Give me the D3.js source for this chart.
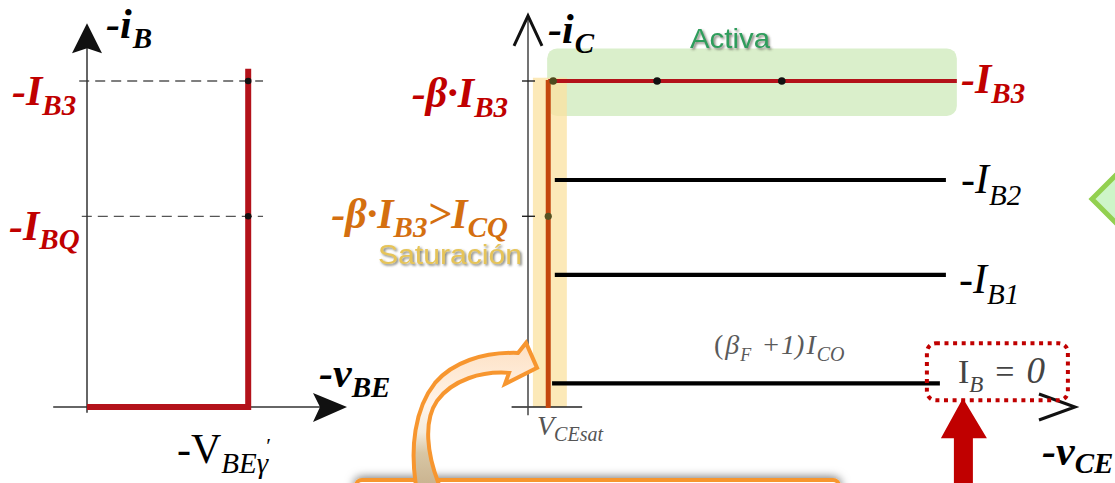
<!DOCTYPE html>
<html><head><meta charset="utf-8">
<script src="https://cdn.jsdelivr.net/npm/d3@7"></script>
<style>
html,body{margin:0;padding:0;background:#fff;overflow:hidden}
svg{display:block}
</style></head><body>
<svg id="fig" width="1115" height="483"></svg>
<script>
// ---- Input characteristic (-iB vs -vBE), piecewise-linear junction model ----
const vbeGamma = 0.62;                 // -V_BEγ
const inputTraceV = [0, 0.62, 0.62];   // -vBE along the trace
const inputTraceI = [0, 0, 41.5];      // -iB along the trace
const inputMarkLevels = [23.4, 40];    // -I_BQ, -I_B3

// ---- Output characteristic (-iC vs -vCE) ----
const curveNames = ["B0", "B1", "B2", "B3"];
const curveLevels = [2.9, 16.2, 27.85, 40];    // -iC of each flat branch
const curveStart = [0.44, 0.49, 0.49, 0.37];   // -vCE where each branch starts
const curveEnd = [7.53, 7.64, 7.64, 7.84];     // -vCE where each branch ends
const vceSat = 0.37;
const icq = 23.4;
const ib3Points = [0.46, 2.36, 4.64];          // marked points on the I_B3 branch
const satRegionV = [0.09, 0.71], satRegionI = [0, 40.4];
const activeRegionV = [0.35, 7.84], activeRegionI = [35.7, 44.0];

const svg = d3.select("#fig");
const defs = svg.append("defs");

// scales shared by both panels (same current axis baseline)
const yI = d3.scaleLinear().domain([0, 40]).range([407, 81]);
const xL = d3.scaleLinear().domain([0, 1]).range([87, 347]);
const xR = d3.scaleLinear().domain([0, 10]).range([528, 1075]);

// filters & gradients
const sh = defs.append("filter").attr("id", "txtShadow").attr("x", "-10%").attr("y", "-30%").attr("width", "130%").attr("height", "160%");
sh.append("feDropShadow").attr("dx", 1.6).attr("dy", 1.6).attr("stdDeviation", 1.1)
  .attr("flood-color", "#4a4a3a").attr("flood-opacity", 0.7);
const boxSh = defs.append("filter").attr("id", "boxShadow").attr("x", "-10%").attr("y", "-60%").attr("width", "120%").attr("height", "220%");
boxSh.append("feDropShadow").attr("dx", 0).attr("dy", -1).attr("stdDeviation", 5)
  .attr("flood-color", "#000").attr("flood-opacity", 0.55);
const grad = defs.append("linearGradient").attr("id", "arrowFill").attr("x1", 0).attr("y1", 0).attr("x2", 0).attr("y2", 1);
[[0, "#fde0c2"], [0.42, "#fff4ea"], [0.6, "#f4ebdc"], [0.74, "#d8c6a4"], [1, "#c6af8b"]]
  .forEach(([o, c]) => grad.append("stop").attr("offset", o).attr("stop-color", c));

function mathText(parent, x, y, parts, o = {}) {
  const t = parent.append("text").attr("x", x).attr("y", y)
    .attr("font-family", o.family || "'Liberation Serif','Times New Roman',serif")
    .attr("font-style", o.style || "italic")
    .attr("font-weight", o.weight || "bold")
    .attr("fill", o.fill || "#000")
    .attr("text-anchor", o.anchor || "start");
  let cur = 0;
  parts.forEach(p => {
    const [txt, size, off = 0, dx = 0, extra] = p;
    const s = t.append("tspan").attr("font-size", size).attr("dy", off - cur).text(txt);
    if (dx) s.attr("dx", dx);
    if (extra) Object.entries(extra).forEach(([k, v]) => s.attr(k, v));
    cur = off;
  });
  return t;
}

const RED = "#c00000", DARKRED = "#b3121a", ORANGE = "#d46f10";
const UP = { "font-style": "normal" };

// ================= Left panel: input characteristic =================
const gL = svg.append("g");
// dashed reference levels
gL.selectAll("line.ref").data(inputMarkLevels).join("line")
  .attr("x1", (d, i) => xL(i ? -0.03 : -0.02)).attr("x2", xL(0.677))
  .attr("y1", d => yI(d)).attr("y2", d => yI(d))
  .attr("stroke", "#555").attr("stroke-width", 1.3).attr("stroke-dasharray", "10,6");
// axes
gL.append("line").attr("x1", xL(-0.13)).attr("x2", xL(0.93)).attr("y1", yI(0)).attr("y2", yI(0))
  .attr("stroke", "#333").attr("stroke-width", 1.5);
gL.append("line").attr("x1", xL(0)).attr("x2", xL(0)).attr("y1", yI(-0.7)).attr("y2", yI(45))
  .attr("stroke", "#333").attr("stroke-width", 1.5);
// filled arrowheads
{
  const tx = xL(1), ty = yI(0);
  gL.append("path").attr("d", `M${tx},${ty} L${tx - 34},${ty - 14} L${tx - 27},${ty} L${tx - 34},${ty + 15} Z`).attr("fill", "#111");
  const ux = xL(0), uy = yI(47.1);
  gL.append("path").attr("d", `M${ux},${uy} L${ux + 15},${uy + 30} L${ux},${uy + 25} L${ux - 15},${uy + 30} Z`).attr("fill", "#111");
}
// trace
const trace = inputTraceV.map((v, i) => [v, inputTraceI[i]]);
gL.append("path").attr("d", d3.line().x(d => xL(d[0])).y(d => yI(d[1]))(trace))
  .attr("fill", "none").attr("stroke", DARKRED).attr("stroke-width", 6).attr("stroke-linejoin", "miter");
gL.selectAll("circle").data(inputMarkLevels).join("circle")
  .attr("cx", xL(vbeGamma)).attr("cy", d => yI(d)).attr("r", 3.3).attr("fill", "#111");

mathText(gL, 106, 38, [["-i", 42], ["B", 29, 10, 1]]);
mathText(gL, 12, 105, [["-I", 42], ["B3", 29, 10]], { fill: RED });
mathText(gL, 9, 240, [["-I", 42], ["BQ", 29, 9]], { fill: RED });
mathText(gL, 319, 387, [["-v", 42], ["BE", 29, 10]]);
mathText(gL, 177, 463, [["-V", 42, 0, 0, UP], ["BEγ", 29, 10], ["′", 22, -10, -2, UP]], { weight: "normal" });

// ================= Right panel: output characteristic =================
const gR = svg.append("g");
// active region band
gR.append("rect")
  .attr("x", xR(activeRegionV[0])).attr("y", yI(activeRegionI[1]))
  .attr("width", xR(activeRegionV[1]) - xR(activeRegionV[0]))
  .attr("height", yI(activeRegionI[0]) - yI(activeRegionI[1]))
  .attr("rx", 10).attr("fill", "#daefcb");
// saturation band
gR.append("rect")
  .attr("x", xR(satRegionV[0])).attr("y", yI(satRegionI[1]))
  .attr("width", xR(satRegionV[1]) - xR(satRegionV[0]))
  .attr("height", yI(satRegionI[0]) - yI(satRegionI[1]))
  .attr("fill", "#fbe2a0").attr("opacity", 0.75);

// axes
gR.append("line").attr("x1", xR(-0.3)).attr("x2", xR(0.99)).attr("y1", yI(0)).attr("y2", yI(0))
  .attr("stroke", "#222").attr("stroke-width", 1.4);
gR.append("line").attr("x1", xR(0)).attr("x2", xR(0)).attr("y1", yI(-1)).attr("y2", yI(47.7))
  .attr("stroke", "#444").attr("stroke-width", 1.5);
{
  const tx = xR(10), ty = yI(0);
  gR.append("path").attr("d", `M${tx - 36},${ty - 13} L${tx},${ty} L${tx - 36},${ty + 13}`)
    .attr("fill", "none").attr("stroke", "#111").attr("stroke-width", 3).attr("stroke-linejoin", "miter");
  const ux = xR(0), uy = yI(48);
  gR.append("path").attr("d", `M${ux - 14},${uy + 30} L${ux},${uy} L${ux + 14},${uy + 30}`)
    .attr("fill", "none").attr("stroke", "#111").attr("stroke-width", 3);
}
// axis ticks at I_CQ and beta*I_B3
gR.selectAll("line.tick").data([icq, curveLevels[3]]).join("line")
  .attr("x1", xR(0) - 6).attr("x2", xR(0) + 7).attr("y1", d => yI(d)).attr("y2", d => yI(d))
  .attr("stroke", "#222").attr("stroke-width", 1.4);

// flat branches
gR.selectAll("line.branch").data(curveNames).join("line")
  .attr("x1", (d, i) => xR(curveStart[i])).attr("x2", (d, i) => xR(curveEnd[i]))
  .attr("y1", (d, i) => yI(curveLevels[i])).attr("y2", (d, i) => yI(curveLevels[i]))
  .attr("stroke", (d, i) => i === 3 ? DARKRED : "#000")
  .attr("stroke-width", (d, i) => i === 3 ? 4 : 4.2);
// saturation edge
gR.append("line").attr("x1", xR(vceSat)).attr("x2", xR(vceSat))
  .attr("y1", yI(curveLevels[3]) - 1).attr("y2", yI(0) + 1)
  .attr("stroke", "#c4470e").attr("stroke-width", 5);
// operating points
gR.selectAll("circle.op").data(ib3Points).join("circle")
  .attr("cx", d => xR(d)).attr("cy", yI(curveLevels[3])).attr("r", 3.8)
  .attr("fill", d => d < satRegionV[1] ? "#4d4a1e" : "#111");
gR.append("circle").attr("cx", xR(vceSat)).attr("cy", yI(icq)).attr("r", 3.6).attr("fill", "#565224");

// region titles
gR.append("text").attr("x", 690).attr("y", 48).text("Activa")
  .attr("font-family", "'Liberation Sans',Arial,sans-serif").attr("font-size", 28)
  .attr("textLength", 80).attr("lengthAdjust", "spacingAndGlyphs")
  .attr("fill", "#2f9d5c").attr("filter", "url(#txtShadow)");
gR.append("text").attr("x", 378).attr("y", 264).text("Saturación")
  .attr("font-family", "'Liberation Sans',Arial,sans-serif").attr("font-size", 27)
  .attr("textLength", 144).attr("lengthAdjust", "spacingAndGlyphs")
  .attr("fill", "#e6c458").attr("filter", "url(#txtShadow)");

// labels
mathText(gR, 548, 43, [["-i", 42], ["C", 29, 10, 1]]);
mathText(gR, 508, 107, [["-β·I", 42], ["B3", 29, 10]], { fill: RED, anchor: "end" });
mathText(gR, 508, 228, [["-β·I", 42], ["B3", 29, 9], [">I", 42, 0], ["CQ", 29, 9]], { fill: ORANGE, anchor: "end" });
mathText(gR, 961, 93, [["-I", 42], ["B3", 29, 10]], { fill: RED });
mathText(gR, 961, 193, [["-I", 42], ["B2", 29, 12]], { weight: "normal" });
mathText(gR, 959, 293, [["-I", 42], ["B1", 29, 11]], { weight: "normal" });
mathText(gR, 1042, 465, [["-v", 42], ["CE", 29, 8]]);
mathText(gR, 714, 354, [["(", 28, 0, 0, UP], ["β", 28, 0, 2], ["F", 18, 7, 1], [" +", 28, 0, 5, UP], ["1)", 28, 0, 2], ["I", 28, 0, 2], ["CO", 20, 7, 1]], { weight: "normal", fill: "#5a5a5a" });
mathText(gR, 537, 435, [["V", 28], ["CEsat", 20, 6]], { weight: "normal", fill: "#555" });

// cutoff annotation: I_B = 0 in a dotted frame, with an arrow pointing at it
{
  const lx = xR(curveEnd[0]), ly = yI(curveLevels[0]);
  gR.append("rect").attr("x", lx - 13).attr("y", ly - 40).attr("width", 141).attr("height", 57)
    .attr("rx", 9).attr("fill", "none").attr("stroke", RED).attr("stroke-width", 4)
    .attr("stroke-dasharray", "4,4.6");
  mathText(gR, lx + 18, ly, [["I", 34, 0, 0, UP], ["B", 23, 9], ["=", 34, 0, 12, UP], ["0", 37, 0, 12]], { weight: "normal", fill: "#444" });
  const ax = lx + 23, ay = ly + 15;
  gR.append("path")
    .attr("d", `M${ax},${ay} L${ax + 24},${ay + 40} L${ax + 10},${ay + 40} L${ax + 10},${ay + 100} L${ax - 9},${ay + 100} L${ax - 9},${ay + 40} L${ax - 22},${ay + 40} Z`)
    .attr("fill", RED);
}

// green chevron at the right margin
svg.append("path").attr("d", "M1092,199 L1140,151 L1188,199 L1140,247 Z")
  .attr("fill", "#cdf5c8").attr("stroke", "#92d050").attr("stroke-width", 5);

// orange note box at the bottom, with curved pointer to the saturation edge
svg.append("rect").attr("x", 356).attr("y", 480).attr("width", 483).attr("height", 40).attr("rx", 6)
  .attr("fill", "#fff").attr("stroke", "#f7962f").attr("stroke-width", 4).attr("filter", "url(#boxShadow)");
svg.append("path")
  .attr("transform", `translate(${xR(0.165)},${yI(4.8)})`)
  .attr("d", "M-120,124 C-128,80 -122,40 -102,15 C-85,-5 -55,-16 -19,-15 L-11,-25 L0,0 L-32,16 L-28,5 C-55,3 -85,12 -100,33 C-113,52 -112,85 -95,124 Z")
  .attr("fill", "url(#arrowFill)").attr("stroke", "#f7962f").attr("stroke-width", 4).attr("stroke-linejoin", "miter");
</script>
</body></html>
